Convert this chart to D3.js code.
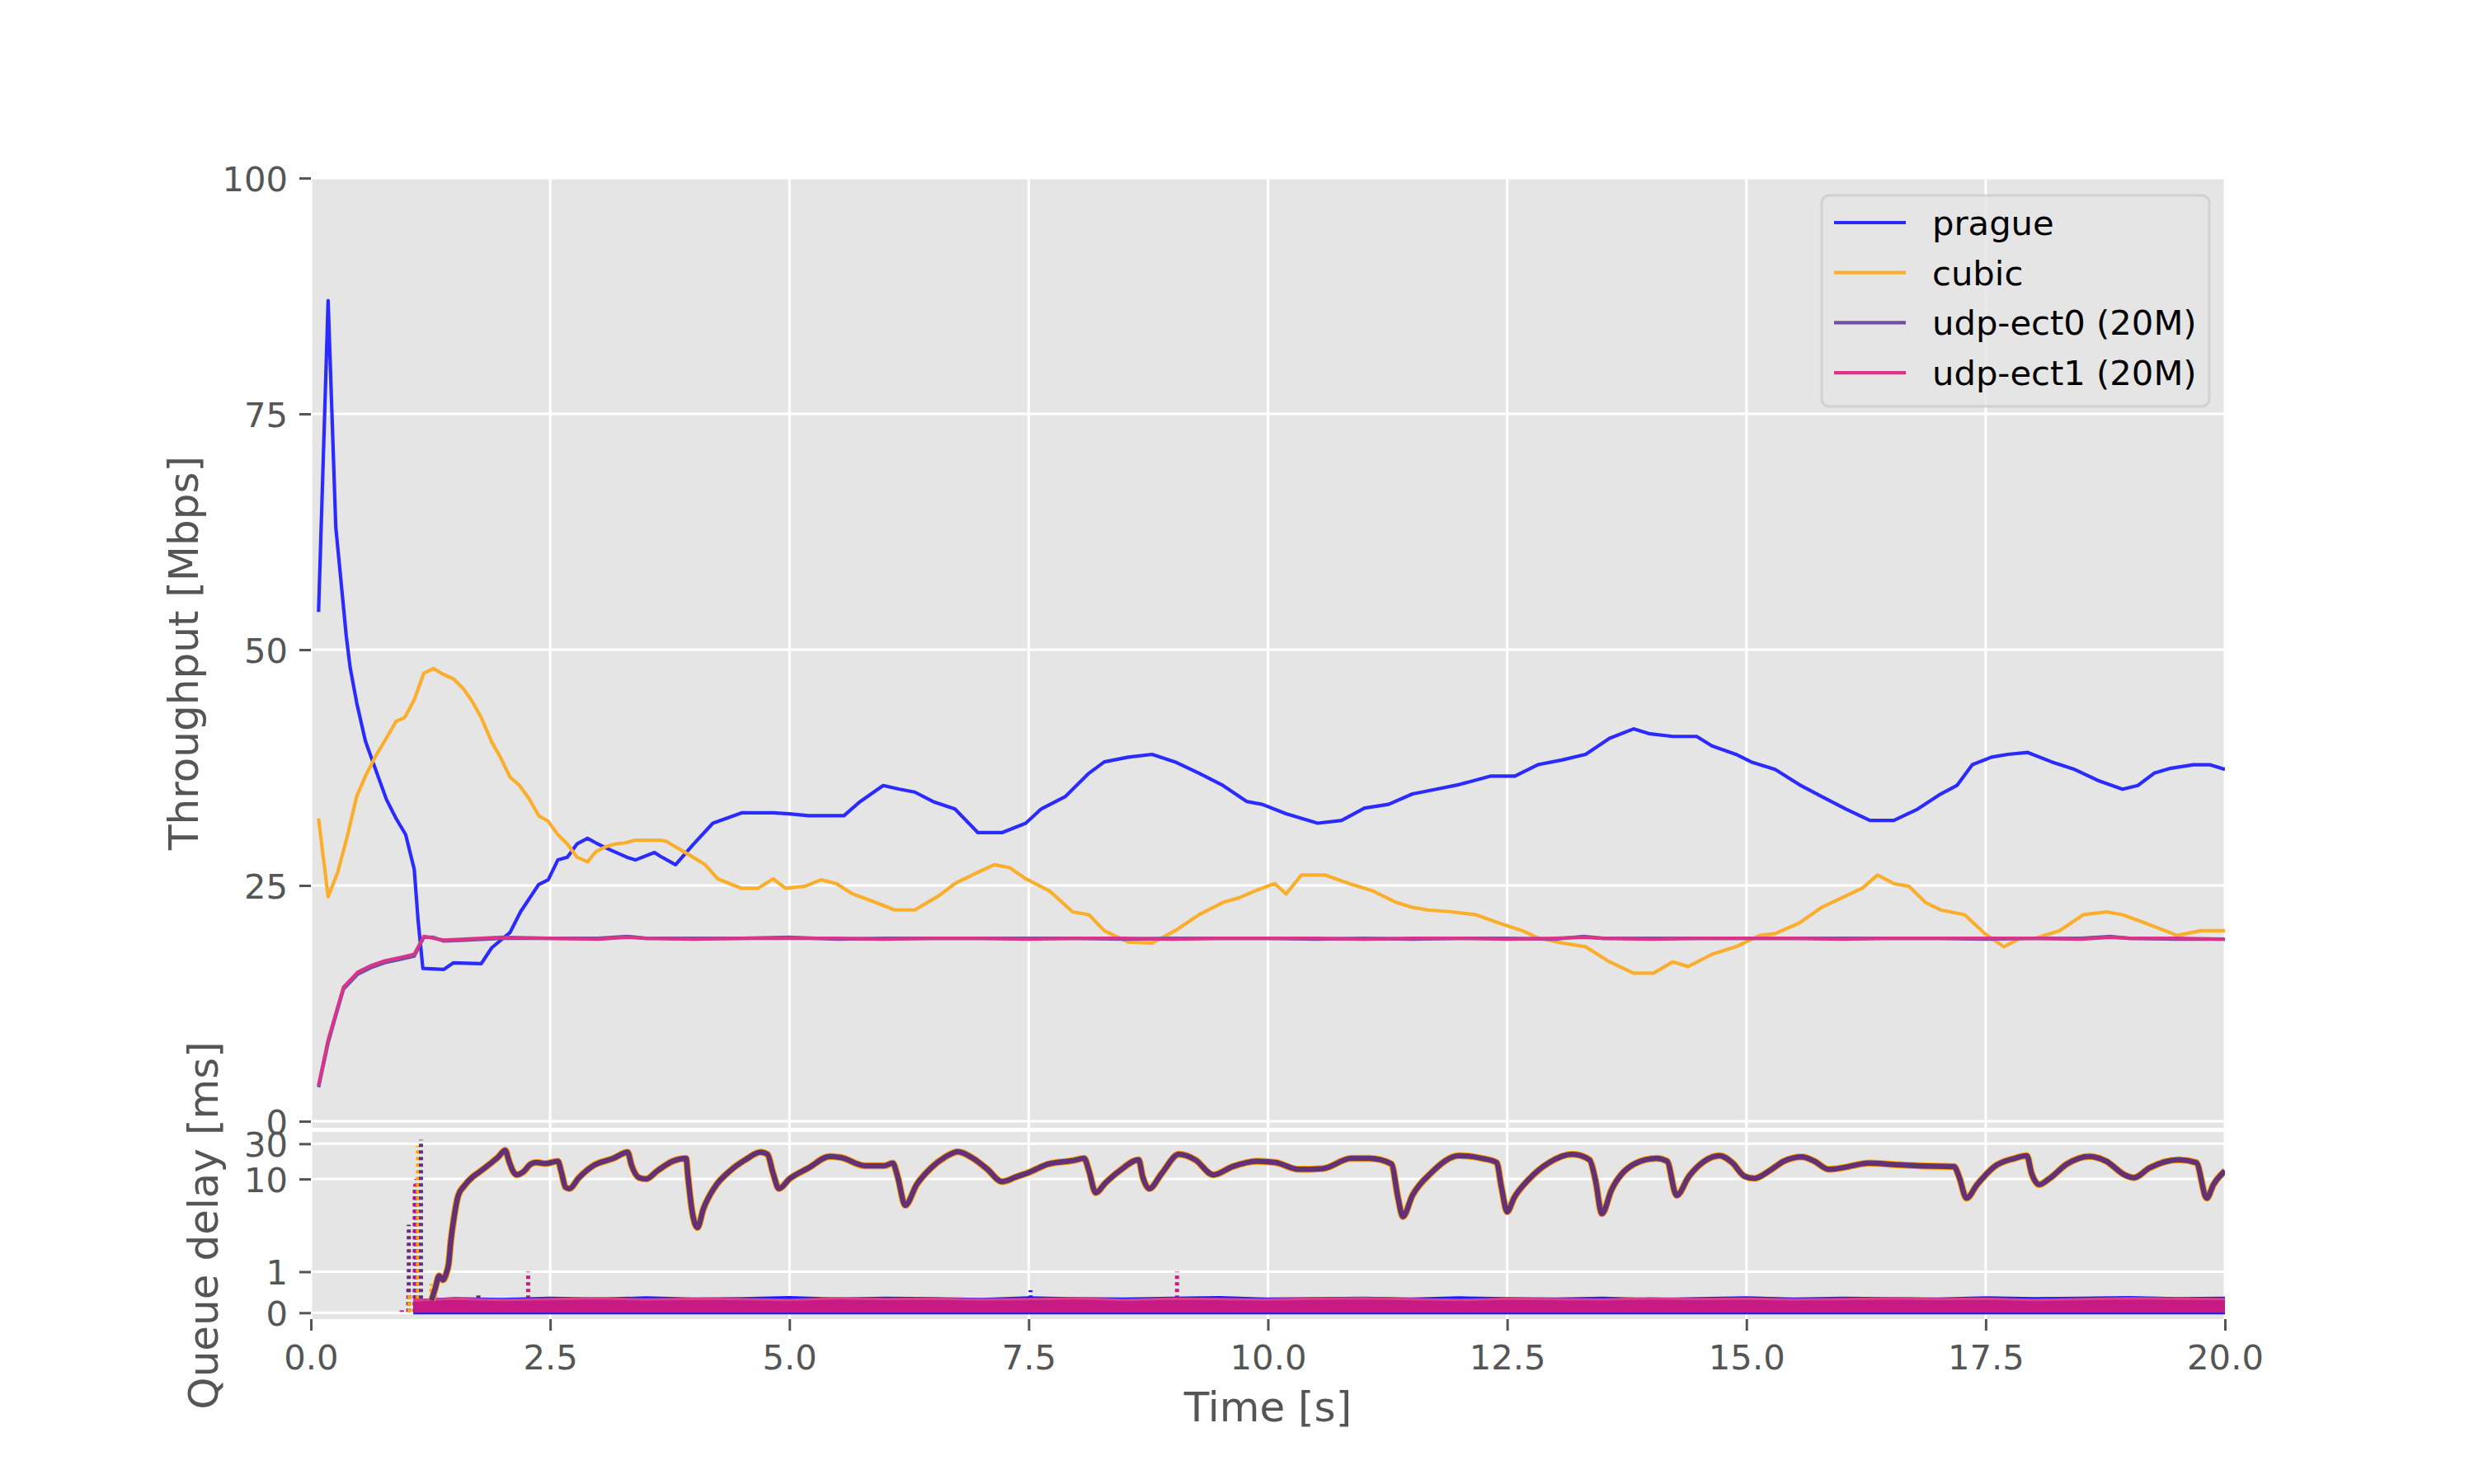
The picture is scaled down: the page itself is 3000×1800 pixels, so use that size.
<!DOCTYPE html>
<html><head><meta charset="utf-8">
<script src="https://cdn.jsdelivr.net/npm/d3@7"></script>
<style>body{margin:0;background:#fff}svg{display:block}text{font-family:"DejaVu Sans",sans-serif}</style>
</head><body><svg id="c" width="3000" height="1800"></svg>
<script>
// ---------------- data ----------------
const seriesNames = ["prague", "cubic", "udp-ect0 (20M)", "udp-ect1 (20M)"];
const xTicks = [0, 2.5, 5, 7.5, 10, 12.5, 15, 17.5, 20];
const thrTicks = [0, 25, 50, 75, 100];
const qTicks = [0, 1, 10, 30];
const qTickLabels = ["0", "1", "10", "30"];

const pragueT = [0.08,0.18,0.26,0.37,0.41,0.48,0.57,0.69,0.79,0.89,0.99,1.08,1.12,1.17,1.39,1.49,1.78,1.89,2.08,2.19,2.38,2.48,2.58,2.68,2.78,2.89,2.98,3.1,3.3,3.39,3.59,3.65,3.81,4.0,4.2,4.5,4.83,5.0,5.2,5.57,5.74,5.98,6.15,6.31,6.5,6.73,6.97,7.22,7.47,7.63,7.88,8.13,8.29,8.54,8.79,9.03,9.28,9.53,9.78,9.94,10.19,10.52,10.77,11.01,11.26,11.51,11.76,12.0,12.33,12.58,12.82,13.07,13.32,13.57,13.82,13.98,14.23,14.48,14.64,14.89,15.05,15.3,15.55,15.79,16.04,16.29,16.54,16.79,17.03,17.2,17.36,17.56,17.73,17.94,18.19,18.43,18.68,18.93,19.09,19.26,19.42,19.67,19.84,20.0];
const pragueV = [54.0,87,63,51.4,48.1,44.3,40.3,36.9,34.1,32.1,30.4,26.7,21.3,16.2,16.1,16.8,16.7,18.4,20.0,22.2,25.1,25.6,27.7,28.0,29.4,30.0,29.5,28.9,28.0,27.7,28.5,28.1,27.2,29.4,31.6,32.7,32.7,32.6,32.4,32.4,33.9,35.6,35.2,34.9,33.9,33.1,30.6,30.6,31.6,33.1,34.4,36.9,38.1,38.6,38.9,38.1,36.9,35.6,33.9,33.6,32.6,31.6,31.9,33.2,33.6,34.7,35.2,35.7,36.6,36.6,37.8,38.3,38.9,40.6,41.6,41.1,40.8,40.8,39.8,38.9,38.1,37.3,35.7,34.4,33.1,31.9,31.9,33.1,34.7,35.6,37.8,38.6,38.9,39.1,38.1,37.3,36.1,35.2,35.6,36.9,37.4,37.8,37.8,37.3];

const cubicT = [0.08,0.18,0.28,0.38,0.48,0.57,0.67,0.77,0.89,0.98,1.08,1.18,1.28,1.38,1.49,1.59,1.68,1.78,1.89,1.98,2.08,2.18,2.28,2.38,2.48,2.58,2.68,2.78,2.89,2.98,3.08,3.18,3.28,3.39,3.65,3.71,3.96,4.12,4.25,4.5,4.67,4.83,4.96,5.16,5.33,5.49,5.66,5.9,6.1,6.31,6.56,6.73,6.97,7.14,7.3,7.47,7.72,7.96,8.13,8.29,8.54,8.79,9.03,9.28,9.53,9.7,9.86,10.07,10.19,10.35,10.6,10.85,11.1,11.34,11.5,11.67,11.92,12.17,12.42,12.66,12.83,13.07,13.32,13.57,13.82,14.03,14.23,14.39,14.64,14.89,15.14,15.3,15.55,15.79,16.04,16.21,16.37,16.54,16.7,16.87,17.03,17.28,17.49,17.69,17.86,18.02,18.27,18.52,18.76,18.93,19.17,19.5,19.75,20.0];
const cubicV = [32.1,23.8,26.4,30.2,34.5,36.6,38.6,40.3,42.4,42.8,44.7,47.5,48.0,47.4,46.9,45.9,44.6,42.8,40.2,38.6,36.5,35.6,34.2,32.4,31.8,30.4,29.4,28.0,27.5,28.6,29.1,29.4,29.5,29.8,29.8,29.7,28.2,27.2,25.7,24.7,24.7,25.7,24.7,24.9,25.6,25.2,24.1,23.2,22.4,22.4,23.9,25.2,26.4,27.2,26.9,25.7,24.4,22.2,21.9,20.2,19.0,18.9,20.2,21.9,23.2,23.7,24.4,25.2,24.1,26.1,26.1,25.2,24.4,23.2,22.7,22.4,22.2,21.9,21.0,20.2,19.4,18.9,18.5,16.9,15.7,15.7,16.9,16.4,17.7,18.5,19.7,19.9,21.0,22.7,23.9,24.7,26.1,25.2,24.9,23.2,22.4,21.9,19.9,18.5,19.4,19.4,20.2,21.9,22.2,21.9,21.0,19.7,20.2,20.2];

const udpT = [0.08,0.18,0.26,0.34,0.49,0.63,0.77,0.95,1.08,1.18,1.28,1.39,1.6,2.0,2.5,3.0,3.3,3.5,4.0,4.5,5.0,5.5,6.0,6.5,7.0,7.5,8.0,8.5,9.0,9.5,10.0,10.5,11.0,11.5,12.0,12.5,13.0,13.3,13.5,14.0,14.5,15.0,15.5,16.0,16.5,17.0,17.5,18.0,18.5,18.8,19.0,19.5,20.0];
const udp0V = [3.6,8.3,11.2,14.0,15.6,16.3,16.8,17.2,17.5,19.5,19.5,19.1,19.2,19.4,19.4,19.4,19.6,19.4,19.4,19.4,19.5,19.3,19.4,19.4,19.4,19.4,19.4,19.3,19.4,19.4,19.4,19.3,19.4,19.3,19.4,19.4,19.3,19.6,19.4,19.4,19.4,19.4,19.4,19.4,19.4,19.4,19.3,19.4,19.4,19.6,19.4,19.3,19.3];
const udp1V = [3.8,8.6,11.4,14.2,15.8,16.5,17.0,17.4,17.7,19.6,19.4,19.2,19.3,19.5,19.4,19.3,19.5,19.4,19.3,19.4,19.4,19.4,19.3,19.4,19.4,19.3,19.4,19.4,19.3,19.4,19.4,19.4,19.3,19.4,19.4,19.3,19.4,19.5,19.4,19.3,19.4,19.4,19.4,19.3,19.4,19.4,19.4,19.4,19.3,19.5,19.4,19.4,19.3];

// classic-queue delay (udp-ect0 / cubic), ms
const qT = [1.26,1.30,1.34,1.38,1.42,1.44,1.46,1.50,1.54,1.60,1.68,1.76,1.87,1.96,2.03,2.07,2.11,2.15,2.22,2.30,2.36,2.45,2.58,2.62,2.66,2.70,2.80,2.96,3.16,3.31,3.35,3.43,3.50,3.62,3.78,3.92,3.94,3.98,4.04,4.10,4.22,4.38,4.54,4.70,4.77,4.83,4.89,5.0,5.2,5.42,5.54,5.79,5.99,6.08,6.13,6.21,6.33,6.48,6.63,6.76,6.92,7.07,7.22,7.37,7.51,7.71,7.96,8.08,8.13,8.2,8.30,8.45,8.65,8.69,8.76,8.89,9.07,9.24,9.43,9.63,9.88,10.08,10.32,10.57,10.87,11.06,11.29,11.36,11.41,11.51,11.7,12.0,12.24,12.39,12.44,12.5,12.57,12.73,12.94,13.18,13.36,13.42,13.49,13.59,13.83,14.06,14.17,14.27,14.4,14.56,14.72,14.85,14.98,15.08,15.24,15.39,15.58,15.71,15.86,16.02,16.28,16.54,16.8,17.17,17.22,17.3,17.41,17.59,17.8,17.93,17.98,18.06,18.16,18.35,18.58,18.76,18.95,19.05,19.21,19.52,19.7,19.81,19.88,20.0];
const qV = [0.3,0.6,0.9,0.8,1.0,1.2,1.7,3.3,6.0,8.0,10.4,12.4,16.0,20.0,24.5,17.5,12.9,11.4,12.5,16.0,16.7,16.2,17.4,12.0,7.75,7.4,10.4,15.4,19.0,23.0,15.4,10.4,10.0,12.9,17.4,19.0,10.9,3.9,2.2,3.9,7.75,12.9,18.2,23.0,21.6,11.9,7.4,10.0,14.1,20.2,19.5,15.1,15.1,16.4,10.9,4.4,8.4,14.1,19.9,23.4,19.0,13.5,9.2,10.7,12.4,16.0,17.7,19.0,12.9,6.5,8.8,12.9,18.2,10.9,7.4,11.9,21.6,18.2,11.4,14.7,17.4,16.7,13.5,13.8,19.0,19.0,16.0,5.5,3.1,6.0,11.9,20.7,19.0,16.7,7.75,3.6,5.5,10.0,16.7,21.6,18.2,10.0,3.4,7.1,16.0,19.0,17.4,6.0,10.9,17.4,20.7,16.7,10.9,10.2,12.9,17.4,19.9,17.4,13.5,14.3,16.4,15.7,15.1,14.7,10.9,5.5,8.4,14.7,19.0,20.7,11.9,8.4,10.0,16.0,20.2,17.4,11.4,10.4,14.1,18.2,16.7,5.5,8.4,12.9];

// L4S-queue band (prague / udp-ect1), upper envelope in ms
const bandT = [1.07,1.5,2,2.5,3,3.5,4,4.5,5,5.5,6,6.5,7,7.5,8,8.5,9,9.5,10,10.5,11,11.5,12,12.5,13,13.5,14,14.5,15,15.5,16,16.5,17,17.5,18,18.5,19,19.5,20];
const pinkTop = [0.30,0.34,0.31,0.33,0.35,0.32,0.34,0.33,0.31,0.35,0.33,0.34,0.32,0.33,0.35,0.31,0.34,0.33,0.32,0.34,0.35,0.33,0.31,0.34,0.33,0.32,0.35,0.33,0.34,0.32,0.33,0.35,0.33,0.34,0.31,0.33,0.35,0.34,0.33];
const blueTop = [0.33,0.38,0.36,0.39,0.37,0.40,0.37,0.38,0.41,0.37,0.39,0.38,0.36,0.40,0.38,0.37,0.39,0.41,0.37,0.38,0.39,0.37,0.40,0.38,0.37,0.39,0.36,0.38,0.40,0.37,0.39,0.38,0.37,0.40,0.38,0.39,0.41,0.38,0.39];

// isolated dotted delay spikes: time, top (ms), series index
const spikeT   = [0.95,1.018,1.023,1.03,1.085,1.09,1.10,1.105,1.12,1.15,1.26,1.30,1.75,2.27,7.52,9.05];
const spikeTop = [0.06,0.65,2.4,0.5,7.5,8.5,7.0,10,28,34,0.7,0.75,0.45,1.0,0.55,1.0];
const spikeSer = [3,3,2,1,2,3,0,3,1,2,1,1,2,3,0,3];

// ---------------- layout / style ----------------
const lineCol = ["#2b2bff", "#fbad2c", "#70509f", "#d8358a"];
const dotCol  = ["#1a1aff", "#ffa500", "#633178", "#c71a82"];
const L = 377, R = 2698, T1 = 216, B1 = 1368, T2 = 1373, B2 = 1600;
const svg = d3.select("#c");
svg.append("rect").attr("width", 3000).attr("height", 1800).attr("fill", "#fff");

const x = d3.scaleLinear().domain([0, 20]).range([L, R]);
const yT = d3.scaleLinear().domain([-0.7, 100]).range([B1, T1]);
const symlog = v => { const a = 1 / 0.9, c = 2, av = Math.abs(v);
  return av <= c ? v * a : Math.sign(v) * c * (a + Math.log10(av / c)); };
const qLin = d3.scaleLinear().domain([-0.172, 4.893]).range([B2, T2]);
const yQ = v => qLin(symlog(v));

const defs = svg.append("defs");
defs.append("clipPath").attr("id", "cp1").append("rect").attr("x", L).attr("y", T1).attr("width", R - L).attr("height", B1 - T1);
defs.append("clipPath").attr("id", "cp2").append("rect").attr("x", L).attr("y", T2).attr("width", R - L).attr("height", B2 - T2);

// panels
[[T1, B1], [T2, B2]].forEach(([t, b]) => svg.append("rect").attr("x", L).attr("y", t).attr("width", R - L).attr("height", b - t).attr("fill", "#e5e5e5"));

// grids
const g1 = svg.append("g");
g1.selectAll(".vx").data(xTicks).join("line").attr("x1", d => x(d)).attr("x2", d => x(d)).attr("y1", T1).attr("y2", B1).attr("stroke", "#fff").attr("stroke-width", 3);
g1.selectAll(".hy").data(thrTicks).join("line").attr("x1", L).attr("x2", R).attr("y1", d => yT(d)).attr("y2", d => yT(d)).attr("stroke", "#fff").attr("stroke-width", 3);
const g2 = svg.append("g");
g2.selectAll(".vx").data(xTicks).join("line").attr("x1", d => x(d)).attr("x2", d => x(d)).attr("y1", T2).attr("y2", B2).attr("stroke", "#fff").attr("stroke-width", 3);
g2.selectAll(".hy").data(qTicks).join("line").attr("x1", L).attr("x2", R).attr("y1", d => yQ(d)).attr("y2", d => yQ(d)).attr("stroke", "#fff").attr("stroke-width", 3);

// upper lines
const zip = (ts, vs) => ts.map((t, i) => ({ t, v: vs[i] }));
const lineT = d3.line().x(d => x(d.t)).y(d => yT(d.v));
const up = svg.append("g").attr("clip-path", "url(#cp1)");
[[pragueT, pragueV], [cubicT, cubicV], [udpT, udp0V], [udpT, udp1V]].forEach(([ts, vs], i) => {
  up.append("path").datum(zip(ts, vs)).attr("d", lineT).attr("fill", "none")
    .attr("stroke", lineCol[i]).attr("stroke-width", 4.2).attr("stroke-linejoin", "round");
});

// lower panel
const lo = svg.append("g").attr("clip-path", "url(#cp2)");
const lineQ = d3.line().x(d => x(d.t)).y(d => yQ(d.v));
const lineQs = d3.line().x(d => x(d.t)).y(d => yQ(d.v)).curve(d3.curveMonotoneX);
const band = (tops, base) => d3.area().x(d => x(d.t)).y0(yQ(base)).y1(d => yQ(d.v))(zip(bandT, tops));
// spikes
spikeT.forEach((t, i) => {
  lo.append("line").attr("x1", x(t)).attr("x2", x(t)).attr("y1", yQ(0.02)).attr("y2", yQ(spikeTop[i]))
    .attr("stroke", dotCol[spikeSer[i]]).attr("stroke-width", 5).attr("stroke-dasharray", "4,4");
});
lo.append("path").attr("d", band(blueTop, -0.04)).attr("fill", dotCol[0]);
lo.append("path").attr("d", band(pinkTop, 0.0)).attr("fill", dotCol[3]);
lo.append("path").datum(zip(bandT, pinkTop)).attr("d", lineQ).attr("fill", "none").attr("stroke", "#d8408e").attr("stroke-width", 3);
const qData = zip(qT, qV);
lo.append("path").datum(qData).attr("d", lineQs).attr("fill", "none").attr("stroke", dotCol[1]).attr("stroke-width", 8.5).attr("stroke-linejoin", "round");
lo.append("path").datum(qData).attr("d", lineQs).attr("fill", "none").attr("stroke", dotCol[2]).attr("stroke-width", 6.5).attr("stroke-linejoin", "round");

// axes
const styleAxis = (g) => {
  g.select(".domain").remove();
  g.selectAll(".tick line").attr("stroke", "#555").attr("stroke-width", 3);
  g.selectAll(".tick text").attr("fill", "#555").attr("font-size", 41.7).attr("font-family", "DejaVu Sans");
};
const ax1 = svg.append("g").attr("transform", `translate(${L},0)`)
  .call(d3.axisLeft(yT).tickValues(thrTicks).tickFormat(d3.format("d")).tickSize(14).tickPadding(14));
styleAxis(ax1); ax1.selectAll(".tick text").attr("dy", "0.36em");
const ax2 = svg.append("g").attr("transform", `translate(${L},0)`)
  .call(d3.axisLeft(qLin).tickValues(qTicks.map(symlog)).tickFormat((d, i) => qTickLabels[i]).tickSize(14).tickPadding(14));
styleAxis(ax2); ax2.selectAll(".tick text").attr("dy", "0.36em");
const ax3 = svg.append("g").attr("transform", `translate(0,${B2})`)
  .call(d3.axisBottom(x).tickValues(xTicks).tickFormat(d3.format(".1f")).tickSize(14).tickPadding(14));
styleAxis(ax3); ax3.selectAll(".tick text").attr("y", 61).attr("dy", 0);

// axis labels
svg.append("text").attr("x", (L + R) / 2).attr("y", 1724).attr("text-anchor", "middle").attr("font-size", 50).attr("fill", "#555").text("Time [s]");
svg.append("text").attr("transform", `translate(240,${(T1 + B1) / 2}) rotate(-90)`).attr("text-anchor", "middle").attr("font-size", 50).attr("fill", "#555").text("Throughput [Mbps]");
svg.append("text").attr("transform", `translate(264,${(T2 + B2) / 2}) rotate(-90)`).attr("text-anchor", "middle").attr("font-size", 50).attr("fill", "#555").text("Queue delay [ms]");

// legend
const lg = svg.append("g");
lg.append("rect").attr("x", 2209).attr("y", 237).attr("width", 470).attr("height", 256).attr("rx", 9)
  .attr("fill", "#e5e5e5").attr("fill-opacity", 0.8).attr("stroke", "#cccccc").attr("stroke-opacity", 0.8).attr("stroke-width", 3);
seriesNames.forEach((n, i) => {
  const yy = 270 + i * 60.7;
  lg.append("line").attr("x1", 2224).attr("x2", 2311).attr("y1", yy).attr("y2", yy).attr("stroke", lineCol[i]).attr("stroke-width", 4.2);
  lg.append("text").attr("x", 2343).attr("y", yy + 15).attr("font-size", 41.7).attr("fill", "#000").text(n);
});
</script></body></html>
